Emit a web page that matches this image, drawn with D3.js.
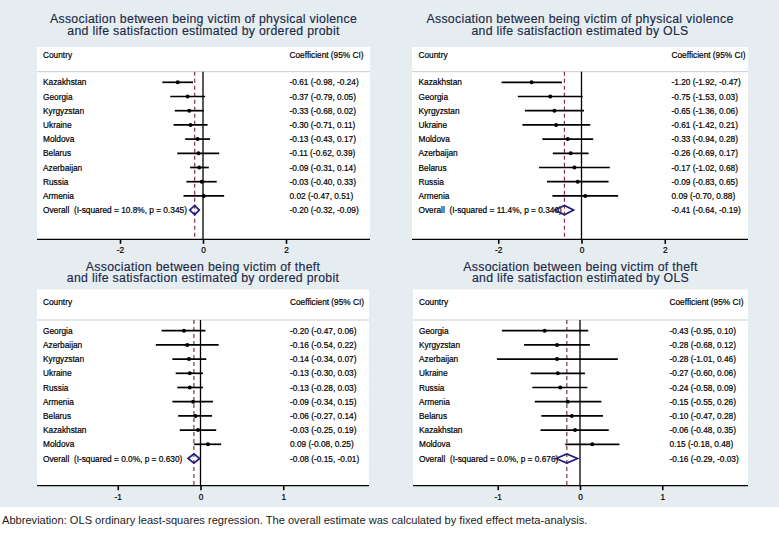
<!DOCTYPE html>
<html><head><meta charset="utf-8">
<script src="https://cdn.jsdelivr.net/npm/d3@7"></script>
<style>
body{margin:0;background:#fff}
svg{display:block}
text{font-family:"Liberation Sans",Arial,Helvetica,sans-serif}
</style>
</head><body>
<svg id="chart" width="779" height="538"></svg>
<script>
// ---------------- DATA ----------------
const titlePvOp = ["Association between being victim of physical violence", "and life satisfaction estimated by ordered probit"];
const countriesPvOp = ["Kazakhstan","Georgia","Kyrgyzstan","Ukraine","Moldova","Belarus","Azerbaijan","Russia","Armenia"];
const estPvOp = [-0.61,-0.37,-0.33,-0.30,-0.13,-0.11,-0.09,-0.03,0.02];
const loPvOp  = [-0.98,-0.79,-0.68,-0.71,-0.43,-0.62,-0.31,-0.40,-0.47];
const hiPvOp  = [-0.24,0.05,0.02,0.11,0.17,0.39,0.14,0.33,0.51];
const overallPvOp = [-0.20,-0.32,-0.09];
const hetPvOp = ["10.8%","0.345"];

const titlePvOls = ["Association between being victim of physical violence", "and life satisfaction estimated by OLS"];
const countriesPvOls = ["Kazakhstan","Georgia","Kyrgyzstan","Ukraine","Moldova","Azerbaijan","Belarus","Russia","Armenia"];
const estPvOls = [-1.20,-0.75,-0.65,-0.61,-0.33,-0.26,-0.17,-0.09,0.09];
const loPvOls  = [-1.92,-1.53,-1.36,-1.42,-0.94,-0.69,-1.02,-0.83,-0.70];
const hiPvOls  = [-0.47,0.03,0.06,0.21,0.28,0.17,0.68,0.65,0.88];
const overallPvOls = [-0.41,-0.64,-0.19];
const hetPvOls = ["11.4%","0.340"];

const titleThOp = ["Association between being victim of theft", "and life satisfaction estimated by ordered probit"];
const countriesThOp = ["Georgia","Azerbaijan","Kyrgyzstan","Ukraine","Russia","Armenia","Belarus","Kazakhstan","Moldova"];
const estThOp = [-0.20,-0.16,-0.14,-0.13,-0.13,-0.09,-0.06,-0.03,0.09];
const loThOp  = [-0.47,-0.54,-0.34,-0.30,-0.28,-0.34,-0.27,-0.25,-0.08];
const hiThOp  = [0.06,0.22,0.07,0.03,0.03,0.15,0.14,0.19,0.25];
const overallThOp = [-0.08,-0.15,-0.01];
const hetThOp = ["0.0%","0.630"];

const titleThOls = ["Association between being victim of theft", "and life satisfaction estimated by OLS"];
const countriesThOls = ["Georgia","Kyrgyzstan","Azerbaijan","Ukraine","Russia","Armenia","Belarus","Kazakhstan","Moldova"];
const estThOls = [-0.43,-0.28,-0.28,-0.27,-0.24,-0.15,-0.10,-0.06,0.15];
const loThOls  = [-0.95,-0.68,-1.01,-0.60,-0.58,-0.55,-0.47,-0.48,-0.18];
const hiThOls  = [0.10,0.12,0.46,0.06,0.09,0.26,0.28,0.35,0.48];
const overallThOls = [-0.16,-0.29,-0.03];
const hetThOls = ["0.0%","0.676"];

const ticksViolence = [-2,0,2];
const ticksTheft = [-1,0,1];
const headerLabels = ["Country","Coefficient (95% CI)"];
const footnote = "Abbreviation: OLS ordinary least-squares regression. The overall estimate was calculated by fixed effect meta-analysis.";

// ---------------- LAYOUT ----------------
const svg = d3.select("#chart");
const BG = "#e6edf0";
const fmt = v => v.toFixed(2);
const FS = 8.3;

svg.append("rect").attr("x",0).attr("y",0).attr("width",779).attr("height",507).attr("fill",BG);

const topRow = {boxTop:47, headerBase:58.2, sepY:71.7, row0:82.3, step:14.2, axisY:239.3, tickBase:253.5, titleBase:22.6, titleStep:11.9};
const botRow = {boxTop:289.5, headerBase:304.7, sepY:320, row0:330.7, step:14.2, axisY:485.7, tickBase:500, titleBase:271.0, titleStep:11.4};

const panels = [
  {row:topRow, bx:[37,370], domain:[-4,4], range:[37,369], labelX:43, valueX:289.5,
   title:titlePvOp, countries:countriesPvOp, est:estPvOp, lo:loPvOp, hi:hiPvOp, overall:overallPvOp, het:hetPvOp, ticks:ticksViolence},
  {row:topRow, bx:[412,748], domain:[-4,4], range:[415,748], labelX:418.5, valueX:671.5,
   title:titlePvOls, countries:countriesPvOls, est:estPvOls, lo:loPvOls, hi:hiPvOls, overall:overallPvOls, het:hetPvOls, ticks:ticksViolence},
  {row:botRow, bx:[37,369], domain:[-2,2], range:[35,366], labelX:43, valueX:290,
   title:titleThOp, countries:countriesThOp, est:estThOp, lo:loThOp, hi:hiThOp, overall:overallThOp, het:hetThOp, ticks:ticksTheft},
  {row:botRow, bx:[413,748], domain:[-2,2], range:[415.5,744.5], labelX:419, valueX:669.5,
   title:titleThOls, countries:countriesThOls, est:estThOls, lo:loThOls, hi:hiThOls, overall:overallThOls, het:hetThOls, ticks:ticksTheft}
];

function txt(g, x, y, s) {
  return g.append("text").attr("x",x).attr("y",y).attr("font-size",FS).attr("fill","#000")
    .attr("stroke","#000").attr("stroke-width",0.2).text(s);
}

panels.forEach(p => {
  const r = p.row;
  const g = svg.append("g");
  const x = d3.scaleLinear().domain(p.domain).range(p.range);
  const n = p.countries.length;
  const y = d3.scaleLinear().domain([0, n]).range([r.row0, r.row0 + n * r.step]);

  // title (single text element, two lines)
  const cx = (p.bx[0]+p.bx[1])/2;
  const tt = g.append("text").attr("text-anchor","middle").attr("font-size",12.3)
    .attr("letter-spacing",0.3)
    .attr("fill","#1c2a48").attr("stroke","#1c2a48").attr("stroke-width",0.15);
  p.title.forEach((t,i) => {
    tt.append("tspan").attr("x",cx).attr("y",r.titleBase + i*r.titleStep).text(t);
  });

  // white plot box
  g.append("rect").attr("x",p.bx[0]).attr("y",r.boxTop).attr("width",p.bx[1]-p.bx[0])
    .attr("height",r.axisY-r.boxTop).attr("fill","#fff");

  // header
  txt(g, p.labelX, r.headerBase, headerLabels[0]);
  txt(g, p.valueX, r.headerBase, headerLabels[1]);
  g.append("line").attr("x1",p.bx[0]).attr("x2",p.bx[1]).attr("y1",r.sepY).attr("y2",r.sepY)
    .attr("stroke","#c9cdd0").attr("stroke-width",1);

  // zero line
  g.append("line").attr("x1",x(0)).attr("x2",x(0)).attr("y1",r.sepY).attr("y2",r.axisY)
    .attr("stroke","#000").attr("stroke-width",1.3);
  // overall dashed
  g.append("line").attr("x1",x(p.overall[0])).attr("x2",x(p.overall[0])).attr("y1",r.sepY).attr("y2",r.axisY)
    .attr("stroke","#8a2f3a").attr("stroke-width",1.2).attr("stroke-dasharray","4,3");

  // rows
  const rows = p.countries.map((c,i) => ({c, e:p.est[i], lo:p.lo[i], hi:p.hi[i], i}));
  rows.forEach(d => {
    txt(g, p.labelX, y(d.i)+3, d.c);
    txt(g, p.valueX, y(d.i)+3, `${fmt(d.e)} (${fmt(d.lo)}, ${fmt(d.hi)})`);
  });
  g.selectAll(".ci").data(rows).enter().append("line")
    .attr("x1",d=>x(d.lo)).attr("x2",d=>x(d.hi)).attr("y1",d=>y(d.i)).attr("y2",d=>y(d.i))
    .attr("stroke","#000").attr("stroke-width",1.7);
  g.selectAll(".pt").data(rows).enter().append("circle")
    .attr("cx",d=>x(d.e)).attr("cy",d=>y(d.i)).attr("r",2).attr("fill","#000");

  // overall row
  const oy = y(n);
  txt(g, p.labelX, oy+3, `Overall  (I-squared = ${p.het[0]}, p = ${p.het[1]})`).attr("xml:space","preserve");
  txt(g, p.valueX, oy+3, `${fmt(p.overall[0])} (${fmt(p.overall[1])}, ${fmt(p.overall[2])})`);
  const o = p.overall;
  g.append("path")
    .attr("d",`M${x(o[1])},${oy} L${x(o[0])},${oy-4.6} L${x(o[2])},${oy} L${x(o[0])},${oy+4.6} Z`)
    .attr("fill","none").attr("stroke","#1f1f7a").attr("stroke-width",1.7);

  // axis
  const axisG = g.append("g").attr("transform",`translate(0,${r.axisY})`);
  axisG.append("line").attr("x1",p.bx[0]).attr("x2",p.bx[1]).attr("y1",0).attr("y2",0)
    .attr("stroke","#000").attr("stroke-width",1.3);
  const ax = d3.axisBottom(x).tickValues(p.ticks).tickSize(4.5).tickFormat(d => String(d));
  const axg = axisG.append("g").call(ax);
  axg.select(".domain").remove();
  axg.selectAll(".tick line").attr("stroke","#000").attr("stroke-width",1.6);
  axg.selectAll(".tick text").attr("font-size",FS).attr("fill","#000").attr("stroke","#000").attr("stroke-width",0.2)
    .attr("font-family","'Liberation Sans',Arial,Helvetica,sans-serif")
    .attr("dy",null).attr("y",r.tickBase-r.axisY);
});

svg.append("text").attr("x",2).attr("y",524).attr("font-size",11.1).attr("fill","#222").text(footnote);
</script>
</body></html>
